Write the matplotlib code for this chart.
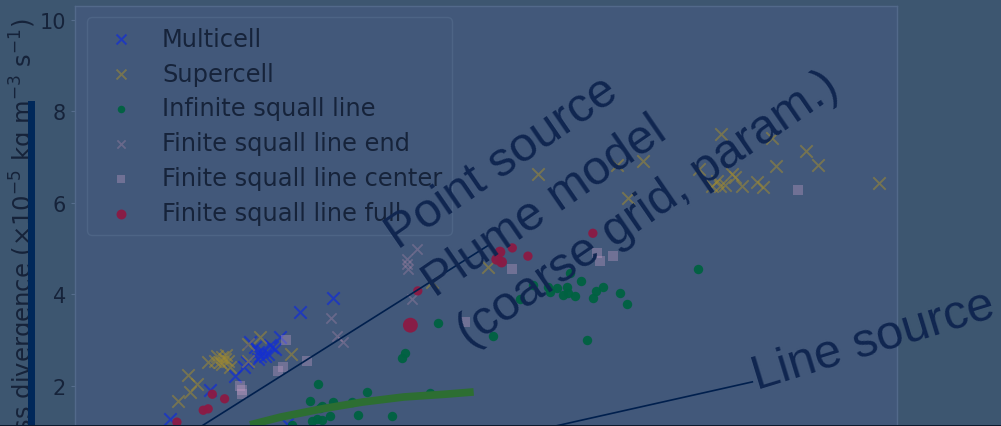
import numpy as np
import matplotlib.pyplot as plt
from matplotlib.patches import Rectangle

# storm-type samples (x in model units, y in 1e-5 kg m-3 s-1)
multicell_x = [3.14, 2.74, 2.49, 2.37, 2.23, 2.19, 2.13, 2.25, 2.09, 2.28,
               2.31, 2.35, 2.40, 2.23, 1.95, 1.64, 1.16, 2.58, 2.06, 2.43]
multicell_y = [3.91, 3.61, 3.06, 2.89, 2.73, 2.84, 2.95, 2.65, 2.51, 2.75,
               2.65, 2.69, 2.84, 2.58, 2.21, 1.90, 1.27, 1.16, 2.40, 2.80]

supercell_x = [1.25, 1.37, 1.40, 1.48, 1.62, 1.70, 1.76, 1.82, 1.86, 1.79,
               1.89, 1.79, 2.10, 2.25, 2.63, 2.10, 1.73, 1.84,
               5.02, 4.34, 5.63, 6.59, 6.73, 6.91,
               7.86, 8.48, 8.89, 9.04, 8.53, 7.59, 7.81, 7.85, 7.75, 7.99,
               8.03, 8.11, 8.30, 8.37, 9.78, 7.91]
supercell_y = [1.66, 2.23, 1.86, 2.03, 2.51, 2.54, 2.51, 2.58, 2.54, 2.47,
               2.40, 2.62, 2.91, 3.06, 2.69, 2.54, 2.64, 2.67,
               4.59, 4.26, 6.62, 6.82, 6.10, 6.91,
               7.50, 7.41, 7.13, 6.82, 6.80, 6.73, 6.47, 6.36, 6.36, 6.62,
               6.56, 6.36, 6.45, 6.34, 6.43, 6.38]

infinite_x = [4.42, 4.01, 3.98, 2.96, 3.55, 2.86, 3.00, 3.14, 3.37, 3.10,
              3.44, 3.86, 2.94, 2.88, 3.00, 2.64, 2.98, 4.32,
              5.09, 6.23, 6.02, 6.16, 5.57, 5.75, 5.86, 5.78, 5.99, 6.00,
              5.94, 6.08, 6.30, 6.34, 6.42, 6.63, 6.72, 5.41, 7.58]
infinite_y = [3.37, 2.71, 2.60, 2.03, 1.86, 1.66, 1.55, 1.64, 1.64, 1.33,
              1.36, 1.33, 1.27, 1.22, 1.25, 1.14, 1.51, 1.84,
              3.08, 2.99, 4.46, 4.28, 4.20, 4.15, 4.13, 4.04, 4.15, 4.02,
              3.98, 3.96, 3.91, 4.07, 4.15, 4.02, 3.78, 3.89, 4.55]

end_x = [4.16, 4.04, 4.05, 4.04, 4.10, 3.11, 3.19, 3.26]
end_y = [4.98, 4.77, 4.55, 4.66, 3.89, 3.48, 3.08, 2.95]

center_x = [2.57, 2.01, 2.03, 2.03, 2.47, 2.53, 2.82, 4.74, 5.32, 6.35,
            6.39, 6.55, 8.80]
center_y = [2.99, 1.99, 1.81, 1.90, 2.32, 2.40, 2.54, 3.39, 4.55, 4.90,
            4.72, 4.83, 6.27]

full_x = [1.67, 1.82, 1.56, 1.62, 1.24, 4.08, 4.17, 5.17, 5.19, 5.13,
          5.32, 5.51, 6.30]
full_y = [1.81, 1.71, 1.46, 1.49, 1.20, 3.32, 4.07, 4.92, 4.70, 4.76,
          5.01, 4.83, 5.33]
full_s = [45, 45, 45, 45, 45, 115, 45, 60, 60, 60, 45, 45, 45]

# model curves
plume_x = [2.13, 2.5, 3.0, 3.5, 4.0, 4.5, 4.85]
plume_y = [1.14, 1.31, 1.49, 1.64, 1.75, 1.81, 1.86]
point_x = [1.44, 5.05]
point_y = [1.00, 5.09]
line_x = [5.56, 8.24]
line_y = [1.00, 2.08]

W, H = 1001, 427
fig = plt.figure(figsize=(W / 100, H / 100), dpi=100, facecolor='#3d5670')
ax = fig.add_axes([75 / W, 1 - 478 / H, 822 / W, 471 / H])
ax.set_facecolor('#42587a')
ax.set_xlim(0, 10)
ax.set_ylim(0, 10.3)

ax.scatter(multicell_x, multicell_y, marker='x', s=80, linewidths=1.5,
           color='#1530d0', alpha=0.75, label='Multicell', zorder=2)
ax.scatter(supercell_x, supercell_y, marker='x', s=80, linewidths=1.4,
           color='#a08a30', alpha=0.55, label='Supercell', zorder=2)
ax.scatter(infinite_x, infinite_y, marker='o', s=46, linewidths=0,
           color='#006241', alpha=0.95, label='Infinite squall line', zorder=2)
ax.scatter(end_x, end_y, marker='x', s=55, linewidths=1.3,
           color='#c090b0', alpha=0.3, label='Finite squall line end', zorder=2)
ax.scatter(center_x, center_y, marker='s', s=50, linewidths=0,
           color='#c8a0c8', alpha=0.35, label='Finite squall line center', zorder=2)
ax.scatter(full_x, full_y, marker='o', s=full_s, linewidths=0,
           color='#8c1a44', alpha=0.95, label='Finite squall line full', zorder=2)

ax.plot(plume_x, plume_y, color='#2d6e32', lw=5.5, solid_capstyle='butt', zorder=3)
ax.plot(point_x, point_y, color='#001f4d', lw=1.2, zorder=6)
ax.plot(line_x, line_y, color='#001f4d', lw=1.2, zorder=6, clip_on=False)

txt = dict(family='Liberation Sans', fontsize=35, color='#102650',
           ha='left', va='baseline', rotation_mode='anchor', zorder=7)
ax.text(3.93, 4.98, 'Point source', rotation=34.5, **txt)
ax.text(4.38, 3.93, 'Plume model', rotation=34.5, **txt)
ax.text(4.80, 2.85, '(coarse grid, param.)', rotation=34.5, **txt)
ax.text(8.30, 1.92, 'Line source', rotation=17, **txt)

ax.set_yticks([2, 4, 6, 8, 10])
ax.set_xticks([])
ax.tick_params(axis='y', labelsize=15, labelcolor='#16233a', color='#566d8c',
               length=3, width=0.8, pad=3.5)
for sp in ax.spines.values():
    sp.set_color('#52698a')
    sp.set_linewidth(1.0)

ax.set_ylabel(r'Mass divergence ($\times10^{-5}$ kg m$^{-3}$ s$^{-1}$)',
              fontsize=17.5, color='#16233a')
ax.yaxis.set_label_coords(-0.042, 0.5)

leg = ax.legend(loc='upper left', bbox_to_anchor=(12 / 822, 1 - 11 / 471),
                borderaxespad=0, fontsize=17.4, labelspacing=0.45,
                handletextpad=0.7, scatterpoints=1, markerscale=0.8,
                facecolor='#42587a', edgecolor='#4d6485', framealpha=1,
                labelcolor='#16233a')
leg.set_zorder(5)

# dark bar beside the axis label and the rule along the bottom edge
fig.add_artist(Rectangle((28 / W, 0), 7 / W, (H - 102) / H,
                         transform=fig.transFigure, color='#00285a', lw=0))
fig.add_artist(Rectangle((0, 0), 1, 1.5 / H, transform=fig.transFigure,
                         color='#0b1a2e', lw=0))

fig.savefig('out.png', dpi=100, facecolor=fig.get_facecolor())
